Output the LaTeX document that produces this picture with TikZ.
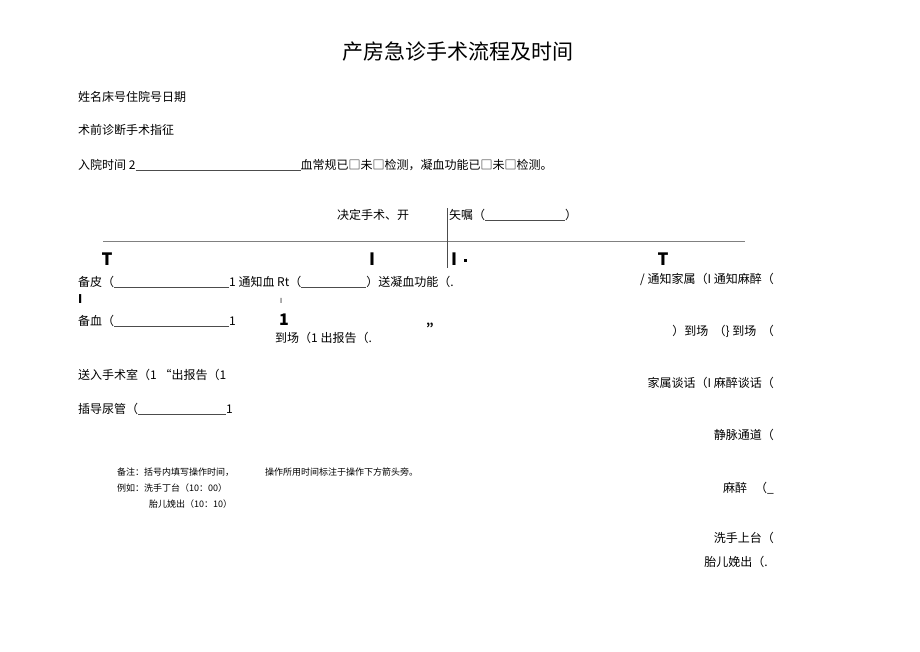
\documentclass[tikz,border=0pt]{standalone}
\usepackage{fontspec}
\setmainfont{Noto Sans CJK SC}
\newcommand{\ul}[1]{\textcolor{black!70}{\rule[-1pt]{#1pt}{0.4pt}}}
\begin{document}
\begin{tikzpicture}[x=1pt,y=-1pt,
  t/.style={anchor=west,inner sep=0pt,font=\fontsize{12}{14}\selectfont},
  tr/.style={anchor=east,inner sep=0pt,font=\fontsize{12}{14}\selectfont},
  s/.style={anchor=west,inner sep=0pt,font=\fontsize{9}{11}\selectfont},
  mk/.style={anchor=center,inner sep=0pt,font=\fontsize{17}{19}\selectfont\bfseries}]
\useasboundingbox[fill=white] (0,0) rectangle (920,651);
\node[anchor=center,inner sep=0pt,font=\fontsize{21}{24}\selectfont] (title) at (458,52) {产房急诊手术流程及时间};
\node[t] (a1) at (78,97) {姓名床号住院号日期};
\node[t] (a2) at (78,130) {术前诊断手术指征};
\node[t] (a3) at (78,165) {入院时间 2\ul{165}血常规已□未□检测，凝血功能已□未□检测。};
\node[t] (d1) at (337,215) {决定手术、开};
\node[t] (d2) at (449,215) {矢嘱（\ul{80}）};
\coordinate (l1) at (103,241); \coordinate (l2) at (745,241);
\draw[gray,line width=0.8pt] (l1) -- (l2);
\coordinate (v1) at (447,208); \coordinate (v2) at (447,268);
\draw[black!70,line width=0.5pt] (v1) -- (v2);
\node[mk] (m1) at (107,259) {T};
\node[mk] (m2) at (372,259) {I};
\node[mk] (m3) at (454,259) {I};
\node[inner sep=0pt,minimum size=3pt,fill=black] (m3d) at (465,260) {};
\node[mk] (m4) at (663,259) {T};
\node[t] (b1) at (78,282) {备皮（\ul{115}1 通知血 Rt（\ul{65}）送凝血功能（.};
\node[t,font=\fontsize{12}{14}\selectfont\bfseries] (b2) at (78,299) {I};
\node[t,font=\fontsize{7}{8}\selectfont] (b3) at (280,301) {I};
\node[t] (c1) at (78,321) {备血（\ul{115}1};
\node[t,font=\fontsize{16}{17}\selectfont\bfseries] (c2) at (279,320) {1};
\node[t,font=\fontsize{12}{14}\selectfont\bfseries] (c3) at (426,325) {,,};
\node[t] (c4) at (275,338) {到场（1 出报告（.};
\node[t] (e1) at (78,375) {送入手术室（1 “出报告（1};
\node[t] (e2) at (78,409) {插导尿管（\ul{88}1};
\node[s] (n1) at (117,472) {备注：括号内填写操作时间，};
\node[s] (n2) at (265,472) {操作所用时间标注于操作下方箭头旁。};
\node[s] (n3) at (117,488) {例如：洗手丁台（10：00）};
\node[s] (n4) at (149,504) {胎儿娩出（10：10）};
\node[tr] (r1) at (774,279) {/ 通知家属（I 通知麻醉（};
\node[tr] (r2) at (774,331) {）到场\ \ （\}\ 到场\ \ （};
\node[tr] (r3) at (774,383) {家属谈话（I 麻醉谈话（};
\node[tr] (r4) at (774,435) {静脉通道（};
\node[tr] (r5) at (774,488) {麻醉\ \ \ （\_};
\node[tr] (r6) at (774,538) {洗手上台（};
\node[tr] (r7) at (768,562) {胎儿娩出（.};
\end{tikzpicture}
\end{document}
